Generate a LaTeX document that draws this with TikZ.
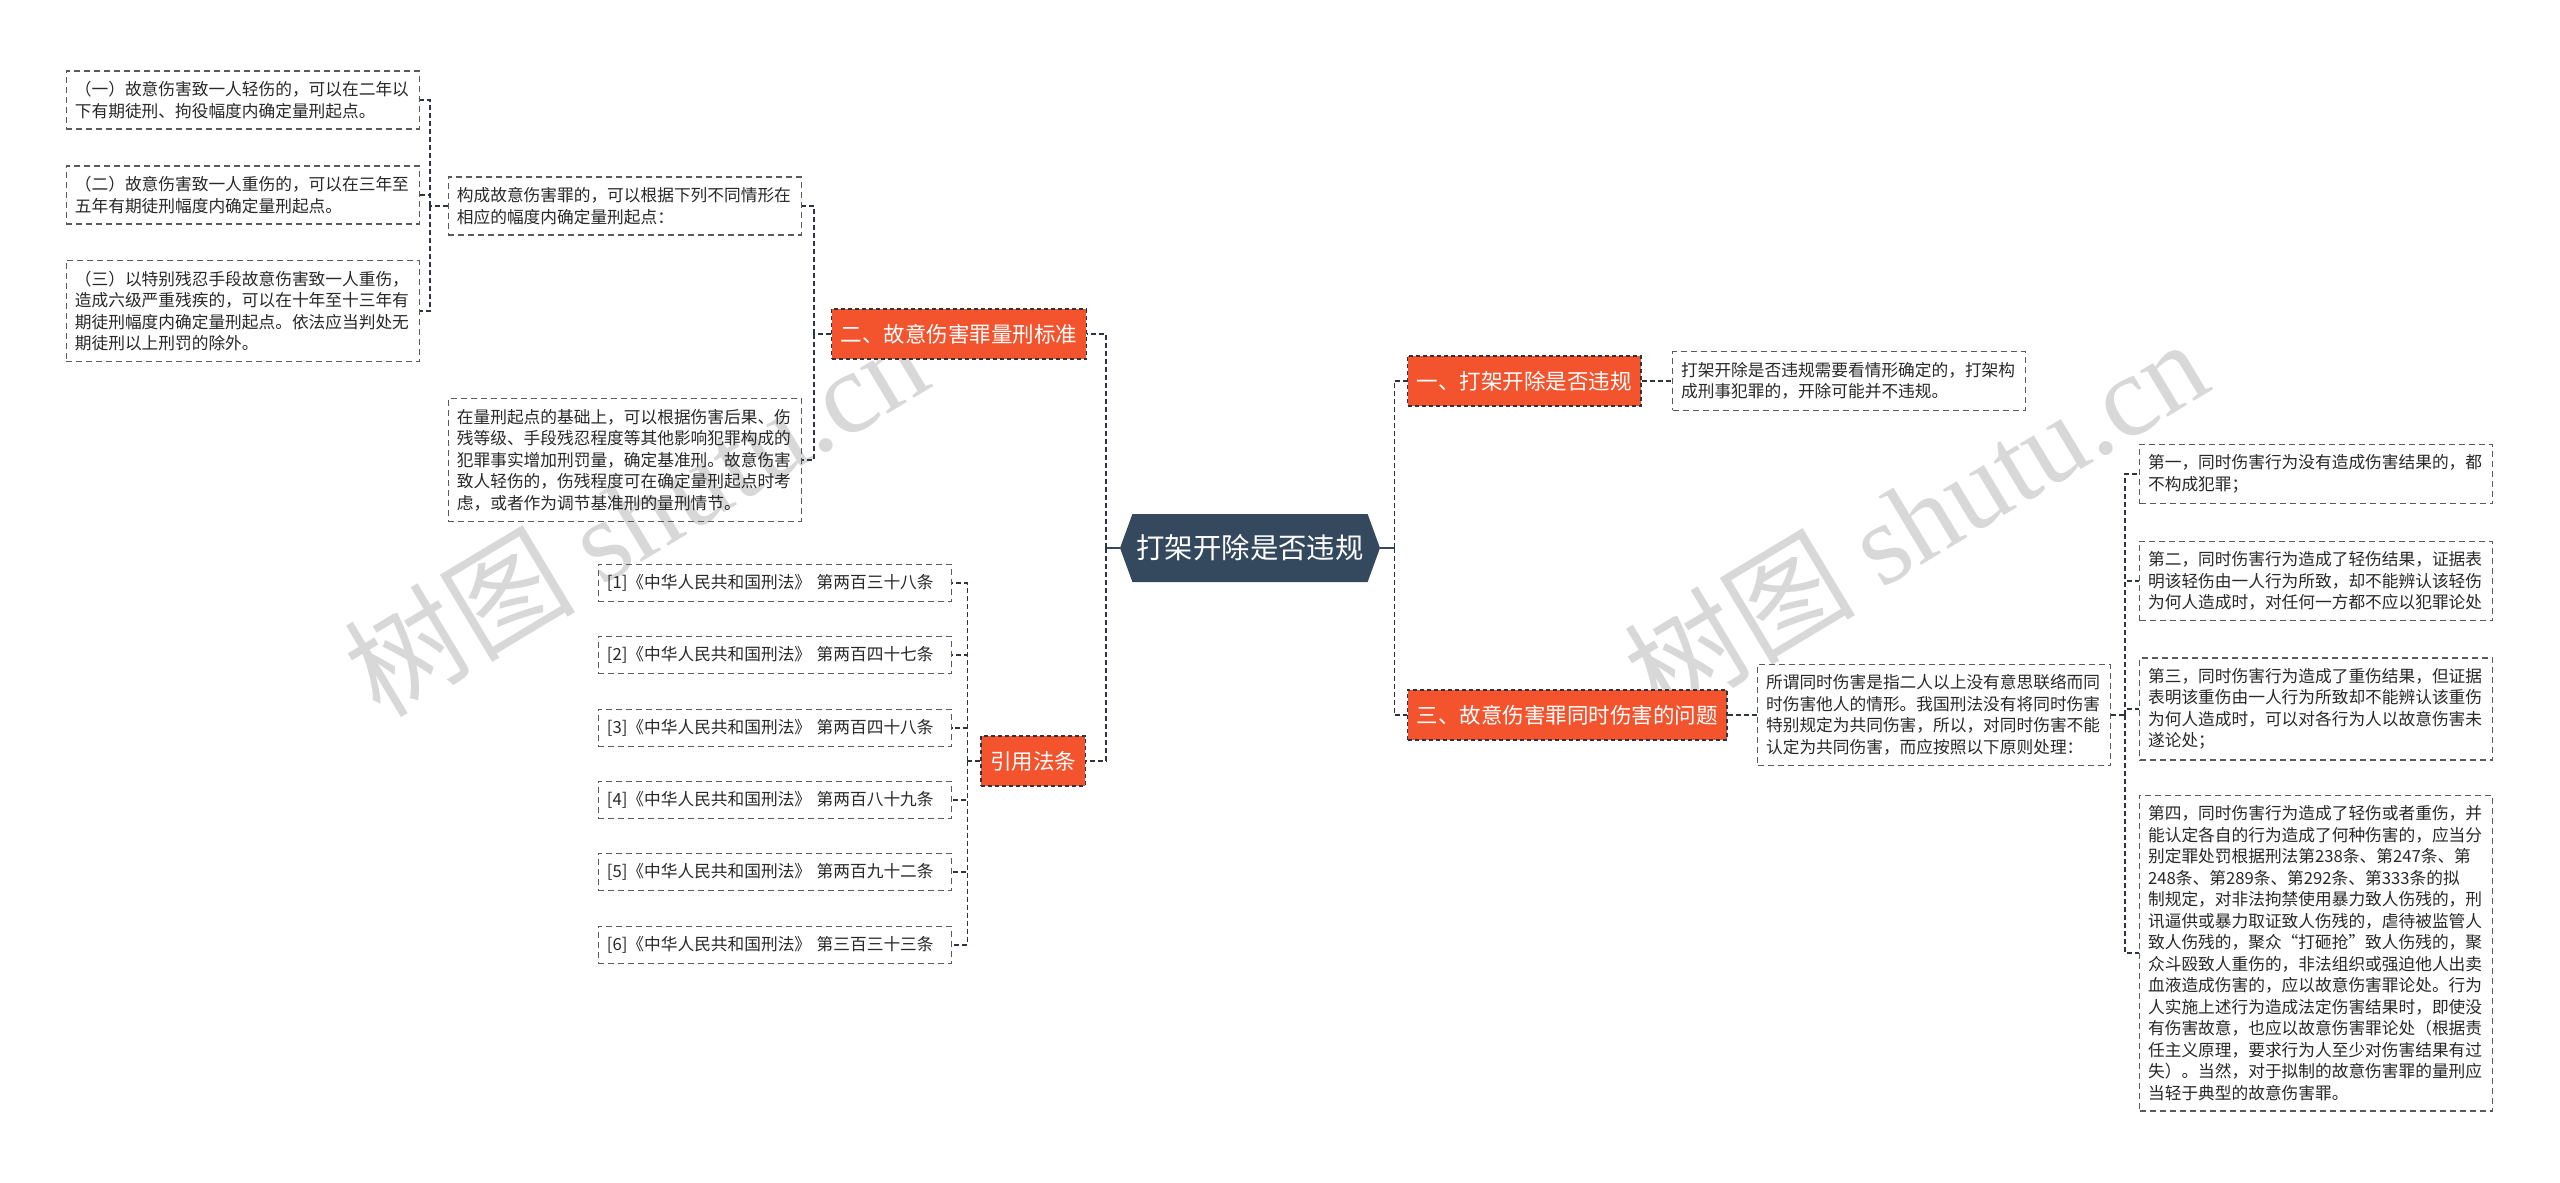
\documentclass[tikz,border=0pt]{standalone}
\usepackage{fontspec}
\setmainfont{Noto Sans CJK SC}
\newfontfamily\wmfont{Liberation Serif}
\usetikzlibrary{shapes.symbols}

\definecolor{rootblue}{RGB}{53,73,94}
\definecolor{branchred}{RGB}{243,83,45}
\definecolor{lineclr}{RGB}{45,52,62}
\definecolor{boxclr}{RGB}{90,90,90}
\definecolor{textclr}{RGB}{40,40,40}
\definecolor{wmgray}{RGB}{216,216,216}

\tikzset{
  rootnode/.style={signal, signal to=west and east, signal pointer angle=140,
    fill=rootblue, text=white, font=\fontsize{14.2pt}{17pt}\selectfont,
    minimum height=34pt, inner xsep=2pt},
  branch/.style={fill=branchred, draw=lineclr, dash pattern=on 2pt off 1.5pt,
    line width=0.6pt, text=white, font=\fontsize{10.75pt}{13pt}\selectfont,
    inner xsep=4.6pt, minimum height=25pt},
  leaf/.style={draw=boxclr, dash pattern=on 3pt off 2pt, line width=0.6pt,
    text=textclr, font=\fontsize{8.35pt}{10.75pt}\selectfont,
    text width=168pt, align=left, inner xsep=4.25pt, inner ysep=5.2pt},
  link/.style={draw=lineclr, line width=0.9pt, dash pattern=on 2.5pt off 1.5pt},
  stem/.style={draw=rootblue, line width=1.3pt},
  wm/.style={text=wmgray, font=\fontsize{58pt}{62pt}\selectfont},
}

\begin{document}
\begin{tikzpicture}[x=0.5pt, y=-0.5pt]
  \fill[white] (0,0) rectangle (2560,1183);
  \useasboundingbox (0,0) rectangle (2560,1183);

  % watermarks
  \node[wm, rotate=31] (wmleft) at (635,515) {树图 {\wmfont shutu.cn}};
  \node[wm, rotate=31] (wmright) at (1915,518) {树图 {\wmfont shutu.cn}};

  % root
  \node[rootnode] (root) at (1250,548) {打架开除是否违规};
  \coordinate (rtrunk) at ([xshift=7pt]root.east);
  \coordinate (ltrunk) at ([xshift=-7pt]root.west);

  % right branches
  \node[branch, anchor=west] (b1) at (1407,381) {一、打架开除是否违规};
  \node[leaf, anchor=west] (d1) at (1672,381) {打架开除是否违规需要看情形确定的，打架构\\成刑事犯罪的，开除可能并不违规。};
  \node[branch, anchor=west] (b3) at (1407,715) {三、故意伤害罪同时伤害的问题};
  \node[leaf, anchor=west] (d3) at (1757,715) {所谓同时伤害是指二人以上没有意思联络而同\\时伤害他人的情形。我国刑法没有将同时伤害\\特别规定为共同伤害，所以，对同时伤害不能\\认定为共同伤害，而应按照以下原则处理：};
  \coordinate (t3) at ([xshift=7pt]d3.east);

  % principles
  \node[leaf, anchor=west] (c1) at (2139,474) {第一，同时伤害行为没有造成伤害结果的，都\\不构成犯罪；};
  \node[leaf, anchor=west] (c2) at (2139,581) {第二，同时伤害行为造成了轻伤结果，证据表\\明该轻伤由一人行为所致，却不能辨认该轻伤\\为何人造成时，对任何一方都不应以犯罪论处};
  \node[leaf, anchor=west] (c3) at (2139,709) {第三，同时伤害行为造成了重伤结果，但证据\\表明该重伤由一人行为所致却不能辨认该重伤\\为何人造成时，可以对各行为人以故意伤害未\\遂论处；};
  \node[leaf, anchor=west] (c4) at (2139,953) {第四，同时伤害行为造成了轻伤或者重伤，并\\能认定各自的行为造成了何种伤害的，应当分\\别定罪处罚根据刑法第238条、第247条、第\\248条、第289条、第292条、第333条的拟\\制规定，对非法拘禁使用暴力致人伤残的，刑\\讯逼供或暴力取证致人伤残的，虐待被监管人\\致人伤残的，聚众“打砸抢”致人伤残的，聚\\众斗殴致人重伤的，非法组织或强迫他人出卖\\血液造成伤害的，应以故意伤害罪论处。行为\\人实施上述行为造成法定伤害结果时，即使没\\有伤害故意，也应以故意伤害罪论处（根据责\\任主义原理，要求行为人至少对伤害结果有过\\失）。当然，对于拟制的故意伤害罪的量刑应\\当轻于典型的故意伤害罪。};

  % left branches
  \node[branch, anchor=east] (b2) at (1087,334) {二、故意伤害罪量刑标准};
  \coordinate (t2) at ([xshift=-8.5pt]b2.west);
  \node[leaf, anchor=east] (dA) at (802,206) {构成故意伤害罪的，可以根据下列不同情形在\\相应的幅度内确定量刑起点：};
  \node[leaf, anchor=east] (dB) at (802,460) {在量刑起点的基础上，可以根据伤害后果、伤\\残等级、手段残忍程度等其他影响犯罪构成的\\犯罪事实增加刑罚量，确定基准刑。故意伤害\\致人轻伤的，伤残程度可在确定量刑起点时考\\虑，或者作为调节基准刑的量刑情节。};
  \coordinate (tA) at ([xshift=-9pt]dA.west);
  \node[leaf, anchor=east] (k1) at (420,100) {（一）故意伤害致一人轻伤的，可以在二年以\\下有期徒刑、拘役幅度内确定量刑起点。};
  \node[leaf, anchor=east] (k2) at (420,195) {（二）故意伤害致一人重伤的，可以在三年至\\五年有期徒刑幅度内确定量刑起点。};
  \node[leaf, anchor=east] (k3) at (420,311) {（三）以特别残忍手段故意伤害致一人重伤，\\造成六级严重残疾的，可以在十年至十三年有\\期徒刑幅度内确定量刑起点。依法应当判处无\\期徒刑以上刑罚的除外。};

  % cited articles
  \node[branch, anchor=east] (b4) at (1086,761) {引用法条};
  \coordinate (t4) at ([xshift=-6.5pt]b4.west);
  \node[leaf, anchor=east] (r1) at (952,583) {[1]《中华人民共和国刑法》 第两百三十八条};
  \node[leaf, anchor=east] (r2) at (952,655) {[2]《中华人民共和国刑法》 第两百四十七条};
  \node[leaf, anchor=east] (r3) at (952,728) {[3]《中华人民共和国刑法》 第两百四十八条};
  \node[leaf, anchor=east] (r4) at (952,800) {[4]《中华人民共和国刑法》 第两百八十九条};
  \node[leaf, anchor=east] (r5) at (952,872) {[5]《中华人民共和国刑法》 第两百九十二条};
  \node[leaf, anchor=east] (r6) at (952,945) {[6]《中华人民共和国刑法》 第三百三十三条};

  % connectors
  \draw[stem] (root.east) -- (rtrunk);
  \draw[stem] (root.west) -- (ltrunk);
  \draw[link] (rtrunk) |- (b1.west);
  \draw[link] (rtrunk) |- (b3.west);
  \draw[link] (ltrunk) |- (b2.east);
  \draw[link] (ltrunk) |- (b4.east);
  \draw[link] (b1.east) -- (d1.west);
  \draw[link] (b3.east) -- (d3.west);
  \draw[link] (d3.east) -- (t3);
  \foreach \c in {c1,c2,c3,c4} \draw[link] (t3) |- (\c.west);
  \draw[link] (b2.west) -- (t2);
  \draw[link] (t2) |- (dA.east);
  \draw[link] (t2) |- (dB.east);
  \draw[link] (dA.west) -- (tA);
  \foreach \k in {k1,k2,k3} \draw[link] (tA) |- (\k.east);
  \draw[link] (b4.west) -- (t4);
  \foreach \r in {r1,r2,r3,r4,r5,r6} \draw[link] (t4) |- (\r.east);
\end{tikzpicture}
\end{document}
